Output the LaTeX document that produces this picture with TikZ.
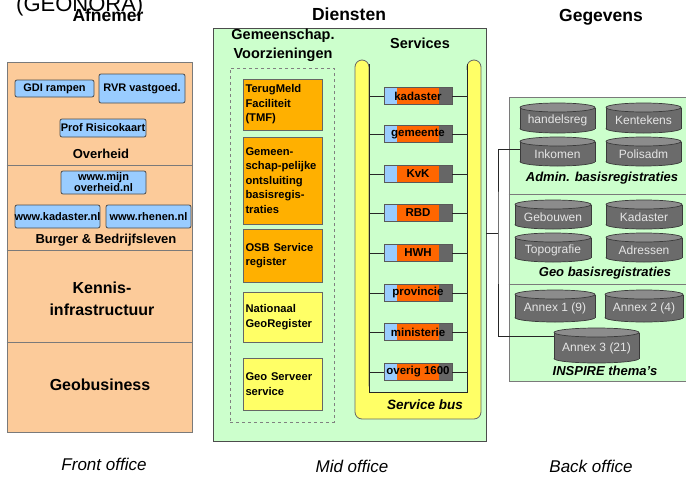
\documentclass[tikz,border=0pt]{standalone}
\usepackage{fontspec}
\setmainfont{Liberation Sans}
\usetikzlibrary{fit,calc}
\definecolor{peach}{HTML}{FCCB9A}
\definecolor{boxblue}{HTML}{99CCFF}
\definecolor{lgreen}{HTML}{CCFFCC}
\definecolor{amber}{HTML}{FFB000}
\definecolor{lyellow}{HTML}{FFFF66}
\definecolor{svcorange}{HTML}{FF6600}
\definecolor{svcgrey}{HTML}{666666}
\definecolor{cylbody}{HTML}{6B6B6B}
\definecolor{cyltop}{HTML}{8C8C8C}
\definecolor{cylline}{HTML}{3A3A3A}
\definecolor{frameg}{HTML}{7A7A7A}
\newcommand\bbox[6]{%
  \node[bluebox, minimum width=#4, minimum height=#5] (#1) at (#2,#3) {};
  \node[bluetext] at (#1) {#6};}
\newcommand\svc[3]{%
  \fill[boxblue] (384,#2-8.5) rectangle (397,#2+8.5);
  \fill[svcorange] (397,#2-8.5) rectangle (439,#2+8.5);
  \fill[svcgrey] (439,#2-8.5) rectangle (452,#2+8.5);
  \node[svcbox] (#1) at (418,#2) {#3};
  \draw[conn] (busL |- #1.west) -- (#1.west);
  \draw[conn] (#1.east) -- (busR |- #1.east);}
\newcommand\cyl[6]{%
  \filldraw[draw=cylline, fill=cylbody, line width=0.7pt] (#2,#3+#5-4.5) ellipse [x radius=#4/2, y radius=4.5];
  \fill[cylbody] (#2-#4/2,#3+4.5) rectangle (#2+#4/2,#3+#5-4.5);
  \draw[cylline, line width=0.7pt] (#2-#4/2,#3+4.5) -- (#2-#4/2,#3+#5-4.5) (#2+#4/2,#3+4.5) -- (#2+#4/2,#3+#5-4.5);
  \filldraw[draw=cylline, fill=cyltop, line width=0.7pt] (#2,#3+4.5) ellipse [x radius=#4/2, y radius=4.5];
  \node[cyltext, minimum width=#4, minimum height=#5-9] (#1) at (#2,#3+#5/2+2.5) {#6};}
\begin{document}
\begin{tikzpicture}[x=1pt,y=-1pt,
  every node/.style={inner sep=0pt},
  hdr/.style={font=\fontsize{17.5}{20}\selectfont\bfseries, anchor=base},
  grp/.style={font=\fontsize{13}{15}\selectfont\bfseries},
  big/.style={font=\fontsize{16}{22}\selectfont\bfseries, align=center},
  bluebox/.style={draw=black!70, fill=boxblue, rounded corners=2pt, line width=0.8pt},
  bluetext/.style={font=\fontsize{11}{11}\selectfont\bfseries, align=center},
  obox/.style={draw=black!60, line width=0.7pt, text width=74pt, inner xsep=2.5pt, align=left,
    font=\fontsize{11.2}{14.5}\selectfont\bfseries},
  svcbox/.style={draw=black!65, line width=0.7pt, minimum width=68, minimum height=17,
    font=\fontsize{11.5}{12}\selectfont\bfseries},
  conn/.style={draw=black!85, line width=0.7pt},
  cyltext/.style={font=\fontsize{12}{14}\selectfont, text=black!10},
  seclbl/.style={font=\fontsize{13}{15}\selectfont\bfseries\itshape},
  office/.style={font=\fontsize{17}{20}\selectfont\itshape}
]
\useasboundingbox (0,0) rectangle (686,477);
\fill[white] (0,0) rectangle (686,477);

% titles
\node[anchor=base west, font=\fontsize{22}{24}\selectfont] (geo) at (16,11) {(GEONORA)};
\node[hdr] (afn) at (108,21) {Afnemer};
\node[hdr] (dien) at (349,20) {Diensten};
\node[hdr] (geg) at (601,21) {Gegevens};

% front office
\node[fit={(7,62)(192,432)}, draw=frameg, fill=peach, line width=0.8pt] (front) {};
\draw[frameg, line width=0.8pt] (front.west |- 0,165) -- (front.east |- 0,165)
  (front.west |- 0,250) -- (front.east |- 0,250)
  (front.west |- 0,342) -- (front.east |- 0,342);
\bbox{gdi}{54.5}{88.5}{79}{17}{GDI rampen}
\bbox{rvr}{142}{88.5}{86}{29}{RVR vastgoed.}
\bbox{prof}{103}{128}{86}{18}{Prof Risicokaart}
\node[grp] (ovh) at (101,154) {Overheid};
\bbox{mijn}{103.5}{182.5}{85}{23}{www.mijn\\overheid.nl}
\bbox{kad}{57.5}{216.5}{85}{23}{www.kadaster.nl}
\bbox{rhe}{148.5}{216.5}{85}{23}{www.rhenen.nl}
\node[grp] (bur) at (106,240) {Burger \& Bedrijfsleven};
\node[big] (ken) at (102,298.5) {Kennis-\\infrastructuur};
\node[big] (gbus) at (100,385) {Geobusiness};

% mid office
\node[fit={(213,28)(486,441)}, draw=black!70, fill=lgreen, line width=0.8pt] (mid) {};
\node[font=\fontsize{14.5}{19}\selectfont\bfseries, align=center] (gvt) at (283,45.5) {Gemeenschap.\\Voorzieningen};
\node[fit={(230,68)(334,422)}, draw=gray, dashed, line width=0.7pt] (gv) {};
\node[obox, fill=amber, minimum height=51] (tmf) at (282.5,104.5) {TerugMeld\\Faciliteit\\(TMF)};
\node[obox, fill=amber, minimum height=87] (gob) at (282.5,180.5) {Gemeen-\\schap-pelijke\\ontsluiting\\basisregis-\\traties};
\node[obox, fill=amber, minimum height=53] (osb) at (282.5,255.5) {OSB Service\\register};
\node[obox, fill=lyellow, minimum height=50] (ngr) at (282.5,317) {Nationaal\\GeoRegister};
\node[obox, fill=lyellow, minimum height=52] (gss) at (282.5,384) {Geo Serveer\\service};

\node[font=\fontsize{14.5}{17}\selectfont\bfseries] (svt) at (420,43) {Services};
\filldraw[fill=lyellow, draw=black!60, line width=0.8pt, rounded corners=7]
  (355,419) -- (355,60) -- (369,60) -- (369,392) -- (467,392) -- (467,60) -- (481,60) -- (481,419) -- cycle;
\fill[lgreen] (369.4,70) rectangle (466.6,391.6);
\coordinate (busL) at (369,64);
\coordinate (busR) at (467,64);
\draw[conn] (busL) -- (369,392) -- (467,392) -- (busR);
\svc{s1}{96}{kadaster}
\svc{s2}{134}{gemeente}
\svc{s3}{174}{KvK}
\svc{s4}{213}{RBD}
\svc{s5}{253}{HWH}
\svc{s6}{293}{provincie}
\svc{s7}{332}{ministerie}
\svc{s8}{372}{overig 1600}
\node[font=\fontsize{13.5}{15}\selectfont\bfseries\itshape] (sbus) at (425,405) {Service bus};

% back office
\node[fit={(509,97)(692,381)}, draw=frameg, fill=lgreen, line width=0.8pt] (back) {};
\draw[frameg, line width=0.8pt] (back.west |- 0,194) -- (back.east |- 0,194)
  (back.west |- 0,284) -- (back.east |- 0,284);
\cyl{hreg}{557.5}{103}{75}{30}{handelsreg}
\cyl{kent}{643.5}{103}{75}{30}{Kentekens}
\cyl{ink}{557.5}{137}{75}{29}{Inkomen}
\cyl{pol}{643.5}{137}{75}{29}{Polisadm}
\node[seclbl] (adm) at (602,178) {Admin. basisregistraties};
\cyl{geb}{553}{200}{76}{29}{Gebouwen}
\cyl{kds}{644}{200}{76}{29}{Kadaster}
\cyl{top}{553}{233}{76}{29}{Topografie}
\cyl{adr}{644}{233}{76}{29}{Adressen}
\node[seclbl] (geob) at (605,273) {Geo basisregistraties};
\cyl{an1}{555}{290}{80}{32}{Annex 1 (9)}
\cyl{an2}{644}{290}{78}{32}{Annex 2 (4)}
\cyl{an3}{596.5}{328}{85}{35}{Annex 3 (21)}
\node[seclbl] (insp) at (605,371) {INSPIRE thema’s};

% connector mid -> back
\coordinate (j) at (498,233);
\draw[conn] (mid.east |- j) -- (j);
\draw[conn] ($(ink.west)+(0,-5)$) -| (j) |- ($(an3.west)+(0,-12)$);

% office labels
\node[office] (fo) at (104,464) {Front office};
\node[office] (mo) at (352,466) {Mid office};
\node[office] (bo) at (591,466) {Back office};
\end{tikzpicture}
\end{document}
